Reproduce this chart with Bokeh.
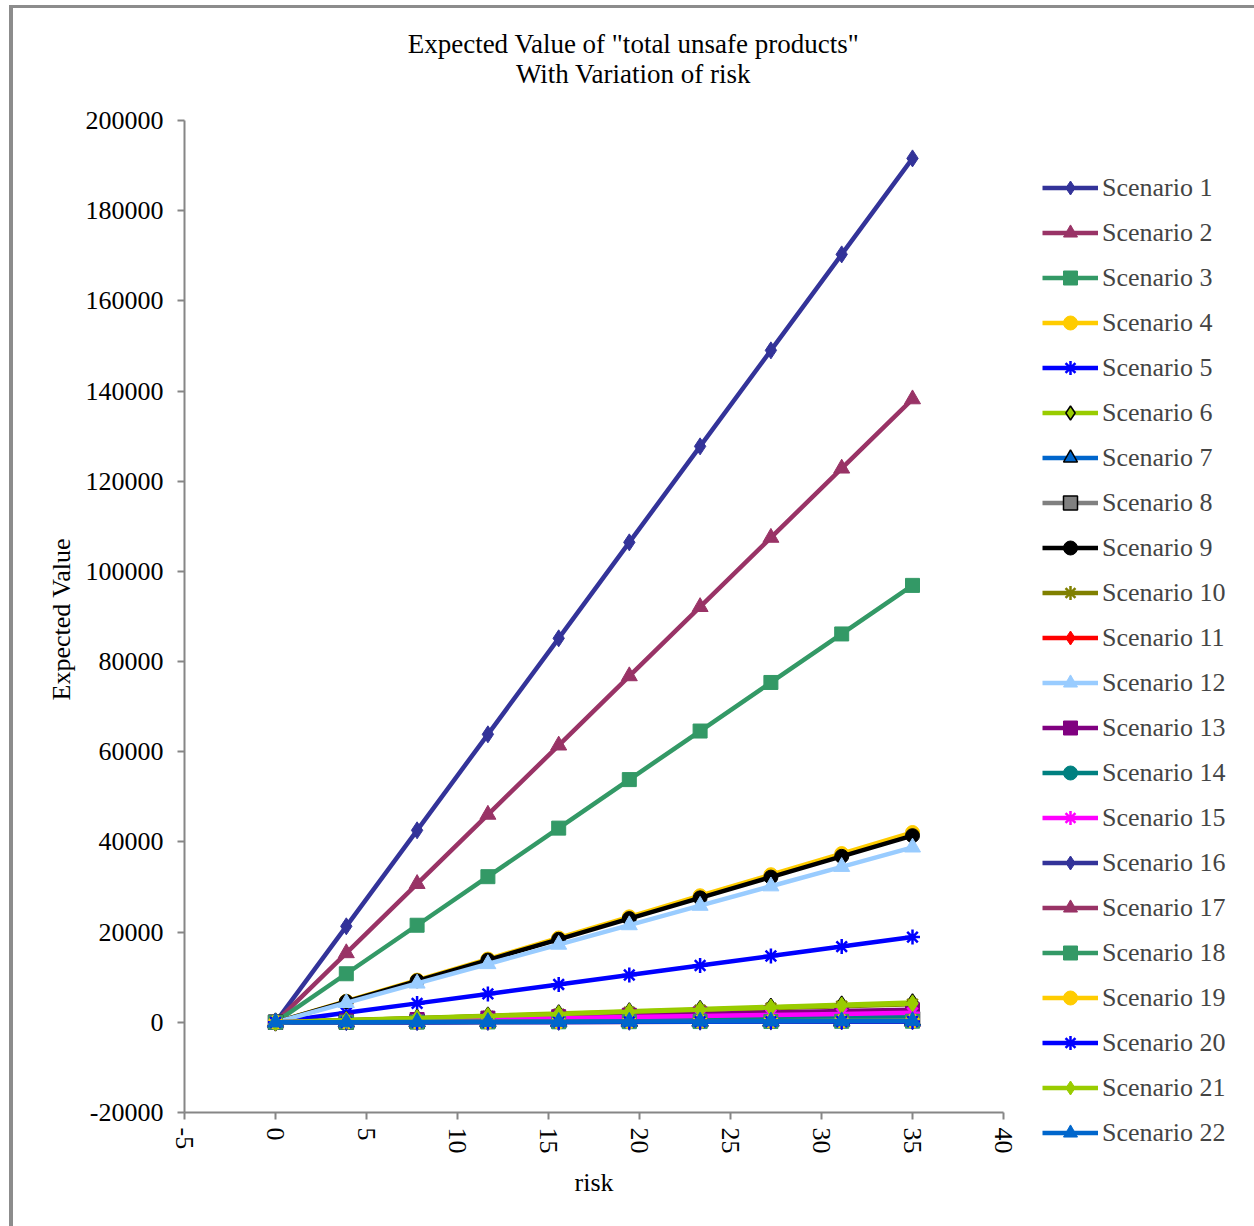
from bokeh.plotting import figure
from bokeh.models import Legend, LegendItem, Label, Title, FixedTicker, Range1d, BasicTickFormatter
from bokeh.embed import file_html
from bokeh.resources import INLINE

risk = [0, 3.89, 7.78, 11.67, 15.56, 19.44, 23.33, 27.22, 31.11, 35]

scenario_1 = [0, 21290, 42580, 63870, 85160, 106440, 127730, 149020, 170310, 191600]
scenario_2 = [0, 15360, 30710, 46070, 61420, 76780, 92130, 107490, 122840, 138200]
scenario_3 = [0, 10770, 21530, 32300, 43070, 53830, 64600, 75370, 86130, 96900]
scenario_4 = [0, 4680, 9360, 14030, 18710, 23390, 28070, 32740, 37420, 42100]
scenario_5 = [0, 2100, 4200, 6300, 8400, 10500, 12600, 14700, 16800, 18900]
scenario_6 = [0, 490, 980, 1470, 1960, 2440, 2930, 3420, 3910, 4400]
scenario_7 = [0, 30, 70, 100, 130, 170, 200, 230, 270, 300]
scenario_8 = [0, 90, 180, 270, 360, 440, 530, 620, 710, 800]
scenario_9 = [0, 4600, 9200, 13800, 18400, 23000, 27600, 32200, 36800, 41400]
scenario_10 = [0, 440, 890, 1330, 1780, 2220, 2670, 3110, 3560, 4000]
scenario_11 = [0, 270, 530, 800, 1070, 1330, 1600, 1870, 2130, 2400]
scenario_12 = [0, 4310, 8620, 12930, 17240, 21560, 25870, 30180, 34490, 38800]
scenario_13 = [0, 310, 620, 930, 1240, 1560, 1870, 2180, 2490, 2800]
scenario_14 = [0, 150, 300, 440, 590, 740, 890, 1040, 1180, 1330]
scenario_15 = [0, 230, 470, 700, 930, 1170, 1400, 1630, 1870, 2100]
scenario_16 = [0, 20, 40, 70, 90, 110, 130, 160, 180, 200]
scenario_17 = [0, 20, 30, 50, 70, 80, 100, 120, 130, 150]
scenario_18 = [0, 30, 60, 80, 110, 140, 170, 190, 220, 250]
scenario_19 = [0, 30, 70, 100, 130, 170, 200, 230, 270, 300]
scenario_20 = [0, 20, 40, 70, 90, 110, 130, 160, 180, 200]
scenario_21 = [0, 470, 930, 1400, 1870, 2330, 2800, 3270, 3730, 4200]
scenario_22 = [0, 30, 70, 100, 130, 170, 200, 230, 270, 300]

series_names = ["Scenario %d" % i for i in range(1, 23)]
series_values = [scenario_1, scenario_2, scenario_3, scenario_4, scenario_5, scenario_6,
                 scenario_7, scenario_8, scenario_9, scenario_10, scenario_11, scenario_12,
                 scenario_13, scenario_14, scenario_15, scenario_16, scenario_17, scenario_18,
                 scenario_19, scenario_20, scenario_21, scenario_22]

x_ticks = [-5, 0, 5, 10, 15, 20, 25, 30, 35, 40]
y_ticks = [-20000, 0, 20000, 40000, 60000, 80000, 100000, 120000, 140000, 160000, 180000, 200000]
title_lines = ['Expected Value of "total unsafe products"', "With Variation of risk"]

# (line colour, marker, marker outline)
styles = [
    ("#333399", "diamond", None),
    ("#993366", "triangle", None),
    ("#339966", "square", None),
    ("#FFCC00", "circle", None),
    ("#0000FF", "asterisk", None),
    ("#99CC00", "diamond", "black"),
    ("#0066CC", "triangle", "black"),
    ("#808080", "square", "black"),
    ("#000000", "circle", None),
    ("#808000", "asterisk", None),
    ("#FF0000", "diamond", None),
    ("#99CCFF", "triangle", None),
    ("#800080", "square", None),
    ("#008080", "circle", None),
    ("#FF00FF", "asterisk", None),
    ("#333399", "diamond", None),
    ("#993366", "triangle", None),
    ("#339966", "square", None),
    ("#FFCC00", "circle", None),
    ("#0000FF", "asterisk", None),
    ("#99CC00", "diamond", None),
    ("#0066CC", "triangle", None),
]

FONT = "Liberation Serif"
AXIS = "#868686"

# frame extends to the top edge so the title can live inside it;
# y range is stretched so that -20000..200000 keeps its original pixel span
p = figure(frame_width=819, frame_height=1104,
           min_border_left=171, min_border_top=0, min_border_right=40, min_border_bottom=114,
           x_range=Range1d(-5, 40), y_range=Range1d(-20000, 224839),
           output_backend="svg", toolbar_location=None)
p.styles = {"margin-left": "9px", "margin-top": "5px",
            "border-left": "4px solid #8c8c8c", "border-top": "3px solid #8c8c8c",
            "border-right": "3px solid #8c8c8c"}
p.outline_line_color = None
p.xgrid.visible = False
p.ygrid.visible = False
p.background_fill_color = "white"
p.border_fill_color = "white"

p.xaxis.ticker = FixedTicker(ticks=x_ticks)
p.yaxis.ticker = FixedTicker(ticks=y_ticks)
p.yaxis.bounds = (-20000, 200000)
p.yaxis.formatter = BasicTickFormatter(use_scientific=False)
p.xaxis.major_label_overrides = {-5: "-5"}
p.yaxis.major_label_overrides = {-20000: "-20000"}
p.xaxis.major_label_orientation = "vertical"
for ax in (p.xaxis, p.yaxis):
    ax.axis_line_color = AXIS
    ax.axis_line_width = 2
    ax.major_tick_line_color = AXIS
    ax.major_tick_line_width = 2
    ax.major_tick_in = 0
    ax.major_tick_out = 7
    ax.minor_tick_line_color = None
    ax.major_label_text_font = FONT
    ax.major_label_text_font_size = "26px"
    ax.major_label_text_color = "black"
    ax.axis_label_text_font = FONT
    ax.axis_label_text_font_size = "26px"
    ax.axis_label_text_font_style = "normal"
    ax.axis_label_text_color = "black"
p.yaxis.major_label_standoff = 14
p.xaxis.major_label_standoff = 8
p.xaxis.axis_label = "risk"
p.xaxis.axis_label_standoff = 11

# y axis title, placed along the -20000..200000 span of the axis
ytitle = Title(text="Expected Value", text_font=FONT, text_font_size="26px",
               text_font_style="normal", text_color="black",
               align="left", offset=412, standoff=13)
p.add_layout(ytitle, "left")

items = []
for name, vals, (color, marker, outline) in zip(series_names, series_values, styles):
    lr = p.line(risk, vals, line_color=color, line_width=4.5)
    if marker == "asterisk":
        sr = p.scatter(risk, vals, marker=marker, size=15, line_color=color, line_width=2.5)
    else:
        sz = {"triangle": 16, "diamond": 17, "square": 14, "circle": 14}[marker]
        sr = p.scatter(risk, vals, marker=marker, size=sz, fill_color=color,
                       line_color=outline if outline else color,
                       line_width=1.5 if outline else 1)
    items.append(LegendItem(label=name, renderers=[lr, sr]))

legend = Legend(items=items, location=(39, -43), padding=0, margin=0,
                border_line_color=None, background_fill_alpha=0,
                glyph_width=56, glyph_height=35, label_height=45, label_standoff=4,
                spacing=0, label_text_font=FONT, label_text_font_size="26px")
p.add_layout(legend, "right")

for txt, ypos in zip(title_lines, [1069, 1039]):
    p.add_layout(Label(x=449, y=ypos, x_units="screen", y_units="screen", text=txt,
                       text_font=FONT, text_font_size="27px", text_color="black",
                       text_align="center", text_baseline="middle"))

open("out.html", "w").write(file_html(p, INLINE))
